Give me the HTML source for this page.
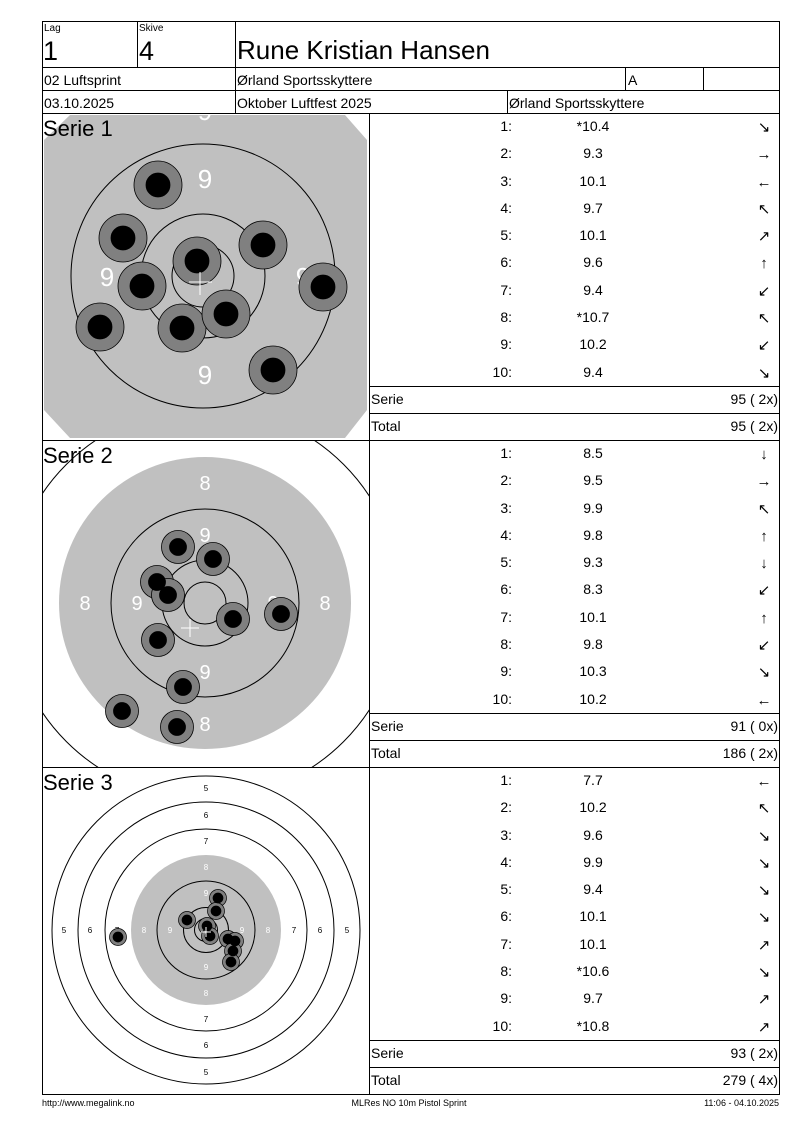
<!DOCTYPE html>
<html><head><meta charset="utf-8"><style>html,body{margin:0;padding:0;background:#fff}svg{display:block}text{font-family:"Liberation Sans",Arial,sans-serif}</style></head><body>
<svg width="800" height="1130" viewBox="0 0 800 1130" xmlns="http://www.w3.org/2000/svg">
<defs>
<clipPath id="c1"><rect x="42" y="113" width="327" height="327"/></clipPath>
<clipPath id="c2"><rect x="42" y="440" width="327" height="327"/></clipPath>
<clipPath id="c3"><rect x="42" y="767" width="327" height="327"/></clipPath>
</defs>
<!-- Serie 1 target -->
<g clip-path="url(#c1)">
<polygon points="44,140 70,115 345,115 367,140 367,410 345,438 70,438 44,410" fill="#c0c0c0"/>
<g fill="none" stroke="#000" stroke-width="1">
<circle cx="203" cy="276" r="132"/><circle cx="203" cy="276" r="62"/><circle cx="203" cy="276" r="31"/></g>
<g fill="#fff" font-size="26" text-anchor="middle">
<text x="205" y="188">9</text><text x="107" y="286">9</text><text x="205" y="384">9</text><text x="303" y="286">9</text><text x="205" y="120">9</text></g>
<g stroke="#000" stroke-width="0.8">
<g fill="#808080"><circle cx="158" cy="185" r="24"/><circle cx="123" cy="238" r="24"/><circle cx="197" cy="261" r="24"/><circle cx="263" cy="245" r="24"/><circle cx="323" cy="287" r="24"/><circle cx="142" cy="286" r="24"/><circle cx="100" cy="327" r="24"/><circle cx="182" cy="328" r="24"/><circle cx="226" cy="314" r="24"/><circle cx="273" cy="370" r="24"/></g>
<g fill="#000"><circle cx="158" cy="185" r="12"/><circle cx="123" cy="238" r="12"/><circle cx="197" cy="261" r="12"/><circle cx="263" cy="245" r="12"/><circle cx="323" cy="287" r="12"/><circle cx="142" cy="286" r="12"/><circle cx="100" cy="327" r="12"/><circle cx="182" cy="328" r="12"/><circle cx="226" cy="314" r="12"/><circle cx="273" cy="370" r="12"/></g></g>
<path d="M189 282H212M200 272V295" stroke="#fff" stroke-width="1"/>
</g>
<!-- Serie 2 target -->
<g clip-path="url(#c2)">
<circle cx="205" cy="603" r="196" fill="none" stroke="#000"/>
<circle cx="205" cy="603" r="146" fill="#c0c0c0"/>
<g fill="none" stroke="#000"><circle cx="205" cy="603" r="94"/><circle cx="205" cy="603" r="43"/><circle cx="205" cy="603" r="21"/></g>
<g fill="#fff" font-size="20" text-anchor="middle">
<text x="205" y="490">8</text><text x="85" y="610">8</text><text x="325" y="610">8</text><text x="205" y="731">8</text>
<text x="205" y="542">9</text><text x="137" y="610">9</text><text x="273" y="610">9</text><text x="205" y="679">9</text></g>
<g stroke="#000" stroke-width="0.8">
<g fill="#808080"><circle cx="178" cy="547" r="16.5"/><circle cx="213" cy="559" r="16.5"/><circle cx="157" cy="582" r="16.5"/><circle cx="168" cy="595" r="16.5"/><circle cx="233" cy="619" r="16.5"/><circle cx="281" cy="614" r="16.5"/><circle cx="158" cy="640" r="16.5"/><circle cx="183" cy="687" r="16.5"/><circle cx="122" cy="711" r="16.5"/><circle cx="177" cy="727" r="16.5"/></g>
<g fill="#000"><circle cx="178" cy="547" r="8.5"/><circle cx="213" cy="559" r="8.5"/><circle cx="157" cy="582" r="8.5"/><circle cx="168" cy="595" r="8.5"/><circle cx="233" cy="619" r="8.5"/><circle cx="281" cy="614" r="8.5"/><circle cx="158" cy="640" r="8.5"/><circle cx="183" cy="687" r="8.5"/><circle cx="122" cy="711" r="8.5"/><circle cx="177" cy="727" r="8.5"/></g></g>
<path d="M181 628H199M190 619V637" stroke="#fff"/>
</g>
<!-- Serie 3 target -->
<g clip-path="url(#c3)">
<g fill="none" stroke="#000"><circle cx="206" cy="930" r="154"/><circle cx="206" cy="930" r="128"/><circle cx="206" cy="930" r="101"/></g>
<circle cx="206" cy="930" r="75" fill="#c0c0c0"/>
<g fill="none" stroke="#000"><circle cx="206" cy="930" r="49"/><circle cx="206" cy="930" r="22.5"/><circle cx="206" cy="930" r="11.5"/></g>
<g font-size="8" text-anchor="middle" fill="#000">
<text x="206" y="791">5</text><text x="206" y="818">6</text><text x="206" y="844">7</text>
<text x="206" y="1075">5</text><text x="206" y="1048">6</text><text x="206" y="1022">7</text>
<text x="64" y="933">5</text><text x="90" y="933">6</text><text x="117" y="933">7</text>
<text x="347" y="933">5</text><text x="320" y="933">6</text><text x="294" y="933">7</text></g>
<g font-size="8" text-anchor="middle" fill="#fff">
<text x="206" y="870">8</text><text x="206" y="896">9</text><text x="206" y="970">9</text><text x="206" y="996">8</text>
<text x="144" y="933">8</text><text x="170" y="933">9</text><text x="242" y="933">9</text><text x="268" y="933">8</text></g>
<g stroke="#000" stroke-width="0.7">
<g fill="#808080"><circle cx="218" cy="898" r="8.5"/><circle cx="216" cy="911" r="8.5"/><circle cx="187" cy="920" r="8.5"/><circle cx="207" cy="926" r="8.5"/><circle cx="210" cy="936" r="8.5"/><circle cx="228" cy="939" r="8.5"/><circle cx="235" cy="941" r="8.5"/><circle cx="233" cy="951" r="8.5"/><circle cx="231" cy="962" r="8.5"/><circle cx="118" cy="937" r="8.5"/></g>
<g fill="#000"><circle cx="218" cy="898" r="5"/><circle cx="216" cy="911" r="5"/><circle cx="187" cy="920" r="5"/><circle cx="207" cy="926" r="5"/><circle cx="210" cy="936" r="5"/><circle cx="228" cy="939" r="5"/><circle cx="235" cy="941" r="5"/><circle cx="233" cy="951" r="5"/><circle cx="231" cy="962" r="5"/><circle cx="118" cy="937" r="5"/></g></g>
<path d="M201 932H211M206 927V937" stroke="#fff"/>
</g>
<!-- grid lines -->
<g stroke="#000" stroke-width="1" fill="none">
<rect x="42.5" y="21.5" width="737" height="1073"/>
<path d="M42 67.5H780M42 90.5H780M42 113.5H780M42 440.5H780M42 767.5H780"/>
<path d="M137.5 21V67M235.5 21V113M625.5 67V90M703.5 67V90M507.5 90V113"/>
<path d="M369.5 113V1094"/>
<path d="M369 386.5H780M369 413.5H780M369 713.5H780M369 740.5H780M369 1040.5H780M369 1067.5H780"/>
</g>
<!-- header text -->
<g fill="#000">
<text x="44" y="31" font-size="10">Lag</text>
<text x="139" y="31" font-size="10">Skive</text>
<text x="43" y="60" font-size="27">1</text>
<text x="139" y="60" font-size="27">4</text>
<text x="237" y="59" font-size="26">Rune Kristian Hansen</text>
<text x="44" y="85" font-size="14">02 Luftsprint</text>
<text x="237" y="85" font-size="14">Ørland Sportsskyttere</text>
<text x="628" y="85" font-size="14">A</text>
<text x="44" y="108" font-size="14">03.10.2025</text>
<text x="237" y="108" font-size="14">Oktober Luftfest 2025</text>
<text x="509" y="108" font-size="14">Ørland Sportsskyttere</text>
<text x="43" y="136" font-size="22">Serie 1</text>
<text x="43" y="463" font-size="22">Serie 2</text>
<text x="43" y="790" font-size="22">Serie 3</text>
</g>
<!-- tables -->
<g fill="#000" font-size="14">
<g text-anchor="end">
<text x="512" y="131">1:</text><text x="512" y="158">2:</text><text x="512" y="186">3:</text><text x="512" y="213">4:</text><text x="512" y="240">5:</text><text x="512" y="267">6:</text><text x="512" y="295">7:</text><text x="512" y="322">8:</text><text x="512" y="349">9:</text><text x="512" y="377">10:</text>
<text x="512" y="458">1:</text><text x="512" y="485">2:</text><text x="512" y="513">3:</text><text x="512" y="540">4:</text><text x="512" y="567">5:</text><text x="512" y="594">6:</text><text x="512" y="622">7:</text><text x="512" y="649">8:</text><text x="512" y="676">9:</text><text x="512" y="704">10:</text>
<text x="512" y="785">1:</text><text x="512" y="812">2:</text><text x="512" y="840">3:</text><text x="512" y="867">4:</text><text x="512" y="894">5:</text><text x="512" y="921">6:</text><text x="512" y="949">7:</text><text x="512" y="976">8:</text><text x="512" y="1003">9:</text><text x="512" y="1031">10:</text>
<text x="778" y="404">95 ( 2x)</text><text x="778" y="431">95 ( 2x)</text>
<text x="778" y="731">91 ( 0x)</text><text x="778" y="758">186 ( 2x)</text>
<text x="778" y="1058">93 ( 2x)</text><text x="778" y="1085">279 ( 4x)</text>
</g>
<g text-anchor="middle">
<text x="593" y="131">*10.4</text><text x="593" y="158">9.3</text><text x="593" y="186">10.1</text><text x="593" y="213">9.7</text><text x="593" y="240">10.1</text><text x="593" y="267">9.6</text><text x="593" y="295">9.4</text><text x="593" y="322">*10.7</text><text x="593" y="349">10.2</text><text x="593" y="377">9.4</text>
<text x="593" y="458">8.5</text><text x="593" y="485">9.5</text><text x="593" y="513">9.9</text><text x="593" y="540">9.8</text><text x="593" y="567">9.3</text><text x="593" y="594">8.3</text><text x="593" y="622">10.1</text><text x="593" y="649">9.8</text><text x="593" y="676">10.3</text><text x="593" y="704">10.2</text>
<text x="593" y="785">7.7</text><text x="593" y="812">10.2</text><text x="593" y="840">9.6</text><text x="593" y="867">9.9</text><text x="593" y="894">9.4</text><text x="593" y="921">10.1</text><text x="593" y="949">10.1</text><text x="593" y="976">*10.6</text><text x="593" y="1003">9.7</text><text x="593" y="1031">*10.8</text>
</g>
<text x="371" y="404">Serie</text><text x="371" y="431">Total</text>
<text x="371" y="731">Serie</text><text x="371" y="758">Total</text>
<text x="371" y="1058">Serie</text><text x="371" y="1085">Total</text>
</g>
<g fill="#000" font-size="15" text-anchor="middle" font-family="DejaVu Sans">
<text x="764" y="132">↘</text><text x="764" y="159">→</text><text x="764" y="187">←</text><text x="764" y="214">↖</text><text x="764" y="241">↗</text><text x="764" y="268">↑</text><text x="764" y="296">↙</text><text x="764" y="323">↖</text><text x="764" y="350">↙</text><text x="764" y="378">↘</text>
<text x="764" y="459">↓</text><text x="764" y="486">→</text><text x="764" y="514">↖</text><text x="764" y="541">↑</text><text x="764" y="568">↓</text><text x="764" y="595">↙</text><text x="764" y="623">↑</text><text x="764" y="650">↙</text><text x="764" y="677">↘</text><text x="764" y="705">←</text>
<text x="764" y="786">←</text><text x="764" y="813">↖</text><text x="764" y="841">↘</text><text x="764" y="868">↘</text><text x="764" y="895">↘</text><text x="764" y="922">↘</text><text x="764" y="950">↗</text><text x="764" y="977">↘</text><text x="764" y="1004">↗</text><text x="764" y="1032">↗</text>
</g>
<g fill="#000" font-size="9">
<text x="42" y="1106">http://www.megalink.no</text>
<text x="409" y="1106" text-anchor="middle">MLRes NO  10m Pistol Sprint</text>
<text x="779" y="1106" text-anchor="end">11:06 - 04.10.2025</text>
</g>
</svg>
</body></html>
